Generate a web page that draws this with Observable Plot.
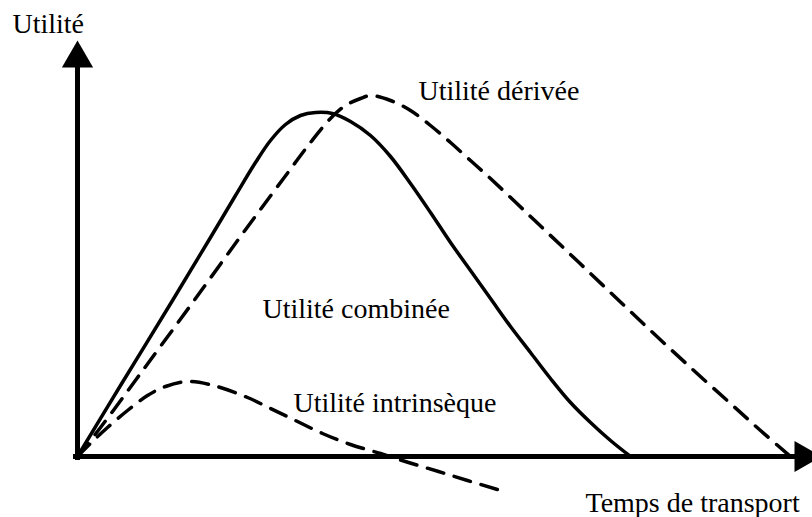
<!DOCTYPE html>
<html>
<head>
<meta charset="utf-8">
<script src="https://cdn.jsdelivr.net/npm/d3@7"></script>
<script src="https://cdn.jsdelivr.net/npm/@observablehq/plot@0.6"></script>
<style>
  html, body { margin: 0; padding: 0; background: #fff; }
  #chart svg { display: block; }
</style>
</head>
<body>
<div id="chart"></div>
<script>
// Utilité combinée (solid)
const combineeX = [0, 4.3, 9.5, 13.3, 15.8, 17.8, 19.3, 20.8, 22.3, 23.8, 25.5, 27.3, 29.3, 31.3, 33.3, 35.3, 37.3, 39.3, 41.3, 43.3, 45.3, 47.3, 49.3, 51.3, 53.3, 55.3];
const combineeY = [0, 7.1, 15.6, 21.9, 26.1, 29.4, 31.6, 33.2, 34.1, 34.4, 34.3, 33.5, 32.1, 30.0, 27.3, 24.4, 21.4, 18.6, 15.8, 13.0, 10.4, 7.8, 5.4, 3.4, 1.6, 0];

// Utilité dérivée (dashed)
const deriveeX = [0, 2.3, 6.3, 11.3, 16.3, 20.6, 23.3, 25.3, 26.8, 28.3, 29.3, 31.3, 33.3, 35.3, 37.3, 39.3, 41.3, 45.3, 49.3, 53.3, 57.3, 61.3, 65.3, 68.3, 71.3];
const deriveeY = [0, 2.9, 8.3, 15.1, 22.0, 27.8, 31.4, 33.8, 35.1, 35.8, 36.1, 35.6, 34.6, 33.1, 31.4, 29.6, 27.8, 24.0, 20.2, 16.4, 12.6, 8.9, 5.3, 2.6, 0];

// Utilité intrinsèque (dashed)
const intrinsequeX = [0, 1.5, 3.0, 5.0, 7.0, 8.8, 11.0, 13.6, 17.0, 19.3, 21.8, 24.5, 27.3, 30.3, 33.1, 36.1, 39.0, 42.3];
const intrinsequeY = [0, 1.5, 2.9, 4.6, 6.1, 7.0, 7.5, 7.1, 5.9, 4.8, 3.6, 2.3, 1.2, 0.3, -0.6, -1.5, -2.4, -3.4];

// Axes extents (data units)
const axisYTop = 39.0;
const axisXRight = 71.8;
const arrowY = [{x: 0, y: 39.8}];
const arrowX = [{x: 72.6, y: 0}];

// Labels
const labelText = ["Utilité", "Utilité dérivée", "Utilité combinée", "Utilité intrinsèque", "Temps de transport"];
const labelX = [-6.5, 34.1, 18.5, 21.6, 50.8];
const labelY = [43.2, 36.5, 14.7, 5.3, -4.7];

const toRows = (xs, ys) => xs.map((x, i) => ({x, y: ys[i]}));
const combinee = toRows(combineeX, combineeY);
const derivee = toRows(deriveeX, deriveeY);
const intrinseque = toRows(intrinsequeX, intrinsequeY);
const labels = labelText.map((t, i) => ({t, x: labelX[i], y: labelY[i]}));

const chart = Plot.plot({
  width: 812,
  height: 517,
  margin: 0,
  x: {domain: [-7.7, 73.5], range: [0, 812], axis: null},
  y: {domain: [-6.1, 45.6], range: [517, 0], axis: null},
  marks: [
    Plot.ruleX([0], {y1: -0.15, y2: axisYTop, stroke: "black", strokeWidth: 5, strokeLinecap: "square"}),
    Plot.ruleY([0], {x1: -0.15, x2: axisXRight, stroke: "black", strokeWidth: 5, strokeLinecap: "square"}),
    Plot.dot(arrowY, {x: "x", y: "y", symbol: "triangle", r: 11.6, fill: "black", stroke: null}),
    Plot.dot(arrowX, {x: "x", y: "y", symbol: "triangle", r: 11.6, fill: "black", stroke: null, rotate: 90}),
    Plot.line(derivee, {x: "x", y: "y", curve: "catmull-rom", stroke: "black", strokeWidth: 3.5, strokeDasharray: "17,11"}),
    Plot.line(intrinseque, {x: "x", y: "y", curve: "catmull-rom", stroke: "black", strokeWidth: 3.5, strokeDasharray: "17,11"}),
    Plot.line(combinee, {x: "x", y: "y", curve: "catmull-rom", stroke: "black", strokeWidth: 3.5}),
    Plot.text(labels, {x: "x", y: "y", text: "t", textAnchor: "start", fontSize: 28, fontFamily: "Liberation Serif", fill: "black"})
  ]
});
document.getElementById("chart").appendChild(chart);
</script>
</body>
</html>
